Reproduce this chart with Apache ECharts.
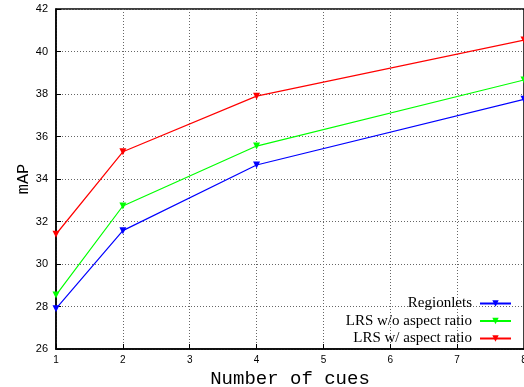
<!DOCTYPE html>
<html><head><meta charset="utf-8">
<script src="https://cdn.jsdelivr.net/npm/echarts@6/dist/echarts.min.js"></script>
<style>html,body{margin:0;padding:0;background:#fff}#c{width:524px;height:387px}</style>
</head><body><div id="c"></div>
<script>
const cues = [1, 2, 4, 8];
const regionlets = [27.9, 31.57, 34.66, 37.75];
const lrsNoAspect = [28.54, 32.73, 35.55, 38.66];
const lrsAspect = [31.4, 35.28, 37.9, 40.54];
const seriesNames = ['Regionlets', 'LRS w/o aspect ratio', 'LRS w/ aspect ratio'];
const seriesColors = ['#0000ff', '#00ff00', '#ff0000'];
const seriesData = [regionlets, lrsNoAspect, lrsAspect];

const chart = echarts.init(document.getElementById('c'));
chart.setOption({
  animation: false,
  backgroundColor: '#fff',
  grid: { left: 56, right: 0, top: 9, bottom: 38, show: true, borderColor: '#000', borderWidth: 1.5,
          containLabel: false, outerBoundsMode: 'none' },
  legend: {
    orient: 'vertical', right: 7, top: 291, align: 'right',
    itemWidth: 31, itemHeight: 8, itemGap: 2.5,
    textStyle: { fontFamily: 'Liberation Serif', fontSize: 15, color: '#000', padding: [0, 3, 0, 0] },
    data: seriesNames
  },
  xAxis: {
    type: 'value', min: 1, max: 8, interval: 1,
    name: 'Number of cues', nameLocation: 'middle', nameGap: 17,
    nameTextStyle: { fontFamily: 'Liberation Mono', fontSize: 19, color: '#000' },
    axisLine: { lineStyle: { color: '#000', width: 1.5 } },
    axisTick: { inside: true, length: 5, lineStyle: { color: '#000' } },
    axisLabel: { fontFamily: 'Liberation Sans', fontSize: 10, color: '#000', margin: 6 },
    splitLine: { show: true, lineStyle: { color: '#666', type: [1, 2], width: 1 } }
  },
  yAxis: {
    type: 'value', min: 26, max: 42, interval: 2,
    name: 'mAP', nameLocation: 'middle', nameGap: 24, nameMoveOverlap: false,
    nameTextStyle: { fontFamily: 'Liberation Mono', fontSize: 17, color: '#000' },
    axisLine: { lineStyle: { color: '#000', width: 1.5 } },
    axisTick: { inside: true, length: 5, lineStyle: { color: '#000' } },
    axisLabel: { fontFamily: 'Liberation Sans', fontSize: 11, color: '#000', margin: 8 },
    splitLine: { show: true, lineStyle: { color: '#666', type: [1, 2], width: 1 } }
  },
  series: seriesNames.map((n, i) => ({
    name: n, type: 'line',
    data: cues.map((c, j) => [c, seriesData[i][j]]),
    symbol: 'triangle', symbolRotate: 180, symbolSize: 7,
    showAllSymbol: true,
    itemStyle: { color: seriesColors[i] },
    lineStyle: { color: seriesColors[i], width: 1.2 }
  }))
});
</script></body></html>
